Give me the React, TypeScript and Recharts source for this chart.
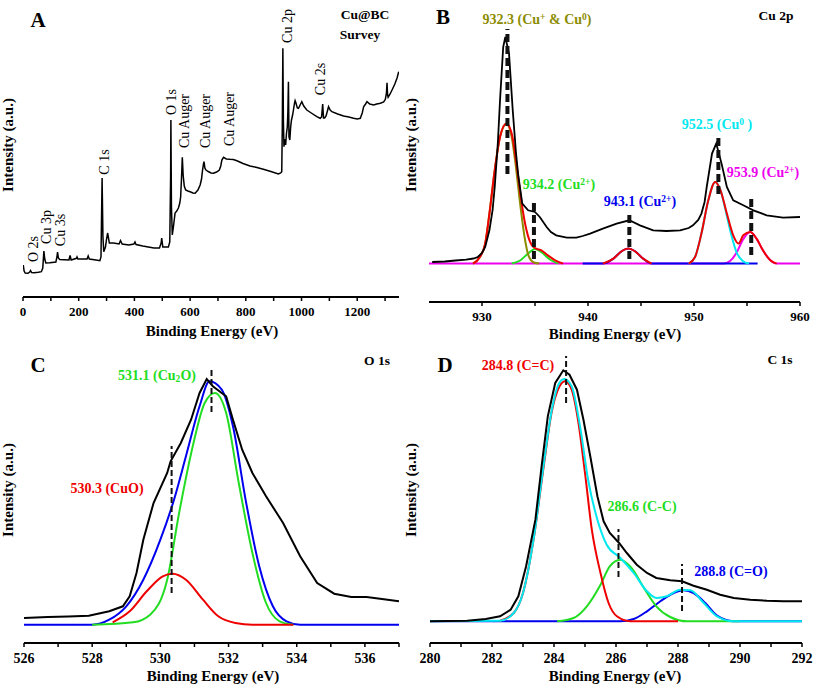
import React from "react";
import { LineChart, Line, XAxis, YAxis, ReferenceLine } from "recharts";

const FONT = '"Liberation Serif", "Times New Roman", serif';

type Pt = { x: number; y: number };
const pts = (rows: number[][]): Pt[] => rows.map(([x, y]) => ({ x, y }));

// ---- A: survey ----
const surveyTicks = [0, 100, 200, 300, 400, 500, 600, 700, 800, 900, 1000, 1100, 1200, 1300];
const surveyLabels = [0, 200, 400, 600, 800, 1000, 1200];
const survey = pts([
  [1, 32], [4, 26], [8, 24], [18, 23.7], [24, 25], [27, 26.5], [31, 24.5], [40, 24.3], [55, 24.8],
  [66, 25.3], [71, 29], [75, 46], [78, 38], [82, 34], [96, 34.3], [118, 35], [122, 40], [124, 45],
  [127, 39], [132, 37.5], [165, 37], [169, 41.5], [173, 37], [192, 38.7], [194, 40], [197, 38],
  [230, 38], [234, 41], [238, 38], [262, 37], [276, 36.3], [280, 40], [284, 119], [287, 60],
  [290, 45.3], [296, 50], [300, 58], [304, 64], [310, 54], [325, 54], [345, 53], [350, 56.5],
  [356, 53], [380, 52], [398, 53], [402, 55], [406, 52.5], [430, 51], [450, 50], [470, 49],
  [490, 49], [496, 54], [498, 59], [502, 50], [522, 50], [527, 55], [530, 120], [531, 177],
  [533, 90], [536, 62], [540, 70], [546, 84], [552, 86], [558, 89], [563, 94], [566, 100],
  [569, 118], [572, 139.7], [575, 122], [579, 111], [584, 107], [592, 106], [600, 105.3],
  [610, 104], [618, 103.7], [628, 107], [636, 112], [641, 118], [644, 125.3], [648, 133],
  [650, 135.3], [653, 129], [657, 127], [665, 125.5], [675, 124], [684, 123.7], [695, 125],
  [705, 127], [710, 131], [714, 137], [720, 139.7], [730, 138], [743, 137.7], [755, 137.5],
  [768, 136.3], [790, 133.5], [815, 131], [840, 129.5], [863, 127.7], [890, 125.5], [917, 123],
  [925, 124], [929, 125.3], [931, 170], [933, 248.7], [935, 175], [937, 150.3], [940, 158],
  [943, 152], [946, 163.7], [949, 170], [951, 185], [953, 215.3], [955, 160], [958, 157],
  [961, 170], [964, 177], [968, 182], [971, 187], [975, 194], [977, 196.3], [980, 194],
  [985, 189], [989, 188.7], [995, 192], [1001, 195.3], [1008, 191], [1019, 187], [1035, 184],
  [1055, 180.3], [1067, 178.7], [1072, 180], [1076, 193], [1079, 179], [1083, 179], [1088, 181],
  [1093, 186], [1097, 190.3], [1103, 187], [1109, 185.3], [1130, 183], [1151, 181], [1170, 180],
  [1187, 178.7], [1200, 178], [1211, 178.7], [1218, 184], [1223, 190.3], [1230, 193],
  [1235, 195.3], [1245, 193], [1259, 192], [1270, 193], [1283, 193.7], [1295, 195],
  [1301, 197.7], [1305, 204], [1307, 214.3], [1309, 202], [1311, 199.7], [1318, 203],
  [1325, 207], [1335, 213], [1343, 219], [1349, 225.3],
]);

// ---- B: Cu 2p ----
const cuTicks = [930, 935, 940, 945, 950, 955, 960];
const cuLabels = [930, 940, 950, 960];
const cuRaw = pts([
  [925.3, 40], [926.5, 40.5], [927.5, 41.5], [928.5, 42.4], [929.2, 43.5], [929.6, 45], [930.0, 49],
  [930.3, 55], [930.7, 71.7], [931.0, 92], [931.2, 115], [931.5, 160], [931.7, 201.7], [932.0, 255],
  [932.2, 265], [932.55, 248.4], [932.9, 191.7], [933.2, 150], [933.4, 128.4], [933.8, 98.4],
  [934.35, 91.7], [935.0, 90], [935.45, 85], [936.1, 75], [936.5, 70], [937.0, 66.7], [938.0, 64.4],
  [938.9, 64.4], [939.5, 66], [940.2, 68.4], [941.4, 73.4], [942.7, 78.4], [943.9, 81.7],
  [944.9, 76.7], [946.15, 71.7], [947.4, 71], [948.7, 71.7], [949.5, 74], [949.9, 76.7],
  [950.4, 82], [950.7, 88.4], [951.0, 100], [951.2, 115], [951.7, 148.4], [952.1, 158.4],
  [952.6, 138.4], [953.1, 115], [953.7, 101.7], [954.65, 96.7], [955.6, 91.7], [956.85, 86.7],
  [958.4, 84.4], [960, 85],
]);
const cuFit1 = pts([
  [929.15, 38.4], [929.8, 45], [930.3, 58.4], [930.7, 88.4], [931.2, 131.7], [931.7, 165],
  [932.3, 178.4], [932.8, 168.4], [933.25, 138.4], [933.7, 101.7], [934.2, 71.7], [934.7, 56.7],
  [935.1, 53.4], [935.6, 51.7], [936.2, 46.7], [936.9, 41.7], [937.65, 38.4],
]);
const cuFit2 = pts([
  [941.4, 38.4], [942.4, 43.4], [943.2, 51], [943.8, 53.4], [944.4, 51], [945.2, 43.4], [946.0, 38.4],
]);
const cuFit3 = pts([
  [949.5, 38.4], [950.1, 45], [950.7, 68.4], [951.35, 101.7], [952.0, 120], [952.5, 111.7],
  [953.1, 88.4], [953.7, 66.7], [954.2, 58.4], [954.65, 66.7], [955.3, 70], [955.9, 63.4],
  [956.5, 51.7], [957.2, 41.7], [957.8, 38.4],
]);
const cuOlive = pts([
  [929.15, 38.4], [929.8, 45], [930.3, 58.4], [930.7, 88.4], [931.2, 131.7], [931.7, 165],
  [932.3, 178], [932.8, 165], [933.2, 135], [933.6, 98], [934.0, 66], [934.4, 46], [934.9, 39.5],
  [935.4, 38.4],
]);
const cuGreen = pts([
  [932.8, 38.4], [933.6, 41.5], [934.3, 48], [935.0, 53], [935.7, 49], [936.4, 42.5], [937.2, 38.4],
]);
const cuBlue = pts([
  [939.5, 38.4], [941.4, 38.4], [942.4, 43.4], [943.2, 51], [943.8, 53.4], [944.4, 51],
  [945.2, 43.4], [946.0, 38.4], [956, 38.4],
]);
const cuCyan = pts([
  [949.5, 38.4], [950.1, 45], [950.7, 68.4], [951.35, 101.7], [952.0, 120], [952.5, 111.7],
  [953.1, 86], [953.5, 68], [954.0, 50], [954.6, 41], [955.2, 38.4],
]);
const cuMagenta = pts([
  [925, 38.4], [952.8, 38.4], [953.4, 41], [954.0, 49], [954.6, 62], [955.3, 70], [955.9, 63.4],
  [956.5, 51.7], [957.2, 41.7], [957.8, 38.4], [960, 38.4],
]);
const cuMarks = [
  [932.4, 128, 273], [934.9, 43, 103], [943.9, 43, 90], [952.3, 108, 167], [955.4, 47, 107],
];

// ---- C: O 1s ----
const oTicks = [526, 527, 528, 529, 530, 531, 532, 533, 534, 535, 536, 537];
const oLabels = [526, 528, 530, 532, 534, 536];
const oRaw = pts([
  [526.0, 25], [526.7, 26], [527.3, 26.5], [527.9, 27.3], [528.5, 31.7], [528.9, 36.7], [529.1, 46.7],
  [529.3, 70], [529.5, 103.3], [529.8, 140], [530.2, 170], [530.3, 181.7], [530.6, 200],
  [530.9, 223.3], [531.15, 250], [531.36, 264], [531.54, 256.7], [531.8, 250], [531.93, 246.7],
  [532.13, 223.3], [532.4, 193.3], [532.7, 170], [533.1, 146.7], [533.6, 120], [534.1, 86.7],
  [534.6, 60], [535.1, 49.3], [535.6, 46], [536.05, 46], [536.5, 44], [537, 41.7],
]);
const oEnvelope = pts([
  [526, 18.3], [528.0, 18.3], [528.5, 23.3], [529.0, 36.7], [529.5, 63.3], [530.0, 103.3],
  [530.4, 143.3], [530.75, 186.7], [531.15, 236.7], [531.44, 261.7], [531.8, 253.3],
  [532.13, 216.7], [532.5, 143.3], [532.9, 76.7], [533.3, 36.7], [533.7, 21.7], [534.1, 18.3],
  [537, 18.3],
]);
const oCu2O = pts([
  [528.0, 18.3], [529.2, 20.7], [529.7, 28.3], [530.2, 63.3], [530.55, 130], [530.95, 196.7],
  [531.3, 240], [531.6, 250], [531.93, 230], [532.3, 160], [532.7, 90], [533.1, 40], [533.5, 21.7],
  [533.9, 18.3],
]);
const oCuO = pts([
  [528.6, 20.7], [529.1, 31.7], [529.6, 51.7], [530.07, 66.7], [530.36, 69.3], [530.75, 63.3],
  [531.25, 43.3], [531.7, 26.7], [532.2, 20], [532.7, 18.3], [533.9, 18.3],
]);
const oMarks = [
  [530.33, 50, 197], [531.5, 231, 276],
];

// ---- D: C 1s ----
const cTicks = [280, 281, 282, 283, 284, 285, 286, 287, 288, 289, 290, 291, 292];
const cLabels = [280, 282, 284, 286, 288, 290, 292];
const cRaw = pts([
  [280, 21.7], [281.2, 22.3], [281.8, 24], [282.26, 26.7], [282.6, 33.3], [282.85, 46.7],
  [283.1, 76.7], [283.4, 123.3], [283.6, 176.7], [283.8, 226.7], [284.04, 260], [284.3, 272.7],
  [284.5, 268.3], [284.74, 253.3], [284.95, 223.3], [285.17, 186.7], [285.4, 146.7], [285.6, 121.7],
  [285.8, 110], [286.1, 100], [286.35, 90], [286.67, 78.3], [287.0, 70], [287.3, 65],
  [287.75, 62.7], [288.13, 61.7], [288.5, 57.3], [288.93, 53.3], [289.36, 48.3], [289.8, 45],
  [290.33, 43.3], [290.87, 42.3], [291.4, 41.7], [292, 41.7],
]);
const cEnvelope = pts([
  [280, 21.7], [282.26, 22.3], [282.7, 30], [283.0, 50], [283.34, 103.3], [283.66, 176.7],
  [283.93, 233.3], [284.14, 258.3], [284.33, 264], [284.57, 256.7], [284.84, 216.7], [285.1, 163.3],
  [285.4, 123.3], [285.7, 98.3], [286.14, 85], [286.57, 70], [287.0, 51.7], [287.3, 45],
  [287.64, 46.7], [288.07, 53.3], [288.4, 52.7], [288.83, 40], [289.26, 26.7], [289.8, 21.7],
  [292, 21.7],
]);
const cCC = pts([
  [282.26, 22.3], [282.7, 30], [283.0, 50], [283.34, 103.3], [283.66, 175], [283.93, 231.7],
  [284.18, 256.7], [284.36, 261.7], [284.57, 253.3], [284.79, 220], [285.0, 170], [285.22, 113.3],
  [285.5, 70], [285.76, 40], [286.03, 26.7], [286.46, 21.7], [288, 21.7],
]);
const cCsingle = pts([
  [284.1, 21.7], [284.63, 25], [285.06, 36.7], [285.5, 58.3], [285.8, 76.7], [286.14, 83.3],
  [286.5, 75], [286.9, 55], [287.3, 36.7], [287.75, 26], [288.3, 21.7], [290, 21.7],
]);
const cCO = pts([
  [280, 21.7], [286.14, 21.7], [286.57, 24], [287.0, 31.7], [287.43, 41.7], [287.86, 50],
  [288.18, 52.7], [288.5, 50], [288.88, 40], [289.26, 27.3], [289.8, 21.7], [292, 21.7],
]);
const cMarks = [
  [284.39, 240, 287], [286.08, 66, 114], [288.13, 32, 79],
];

type Box = { l: number; t: number; r: number; b: number };

function Panel(props: {
  box: Box;
  xDomain: [number, number];
  yDomain: [number, number];
  ticks: number[];
  labels: number[];
  fontSize: number;
  children: React.ReactNode;
}) {
  const { box, xDomain, yDomain, ticks, labels, fontSize, children } = props;
  const pad = { l: 14, t: 6, r: 14, b: 28 };
  const frame = { stroke: "#000", strokeWidth: 2 };
  return (
    <div style={{ position: "absolute", left: box.l - pad.l, top: box.t - pad.t }}>
      <LineChart
        width={box.r - box.l + pad.l + pad.r}
        height={box.b - box.t + pad.t + pad.b}
        margin={{ top: pad.t, right: pad.r, bottom: 0, left: pad.l }}
      >
        <XAxis
          type="number"
          dataKey="x"
          domain={xDomain}
          ticks={ticks}
          interval={0}
          allowDataOverflow
          height={pad.b}
          tickFormatter={(v: number) => (labels.includes(v) ? String(v) : "")}
          tick={{ fill: "#000", fontSize, fontWeight: 700, fontFamily: FONT }}
          tickSize={4}
          tickMargin={6}
          tickLine={{ stroke: "#000", strokeWidth: 1.5 }}
          axisLine={frame}
        />
        <XAxis xAxisId="top" orientation="top" type="number" domain={xDomain} allowDataOverflow
          height={0} tick={false} tickLine={false} axisLine={frame} />
        <YAxis type="number" domain={yDomain} allowDataOverflow width={0}
          tick={false} tickLine={false} axisLine={frame} />
        <YAxis yAxisId="right" orientation="right" type="number" domain={yDomain} allowDataOverflow
          width={0} tick={false} tickLine={false} axisLine={frame} />
        {children}
      </LineChart>
    </div>
  );
}

function Tag(props: {
  x: number; y: number; c?: string; s?: number; w?: number; rot?: boolean; children: React.ReactNode;
}) {
  const { x, y, c = "#000", s = 14, w = 700, rot = false, children } = props;
  return (
    <div
      style={{
        position: "absolute",
        left: x,
        top: y,
        transform: `translate(-50%, -50%)${rot ? " rotate(-90deg)" : ""}`,
        color: c,
        fontSize: s,
        fontWeight: w,
        fontFamily: FONT,
        whiteSpace: "nowrap",
        lineHeight: 1,
      }}
    >
      {children}
    </div>
  );
}

const Sup = ({ children }: { children: React.ReactNode }) => (
  <span style={{ verticalAlign: "0.45em", fontSize: "0.68em" }}>{children}</span>
);
const Sub = ({ children }: { children: React.ReactNode }) => (
  <span style={{ verticalAlign: "-0.25em", fontSize: "0.68em" }}>{children}</span>
);

const line = (data: Pt[], stroke: string, key: string, width = 2, type: "monotone" | "linear" = "monotone") => (
  <Line key={key} data={data} dataKey="y" stroke={stroke} strokeWidth={width} type={type}
    dot={false} activeDot={false} isAnimationActive={false} />
);

const marks = (rows: number[][], w: number, dash: string) =>
  rows.map(([x, y1, y2], i) => (
    <ReferenceLine key={`m${i}`} segment={[{ x, y: y1 }, { x, y: y2 }]} stroke="#111"
      strokeWidth={w} strokeDasharray={dash} />
  ));

const GREEN = "#22dd22";
const RED = "#ee0000";
const BLUE = "#0000ee";
const CYAN = "#00e8f0";
const MAGENTA = "#ee00ee";
const OLIVE = "#8c8c00";

export default function App() {
  return (
    <div style={{ position: "absolute", left: 0, top: 0, width: 813, height: 685, background: "#fff" }}>
      <Panel box={{ l: 23, t: 2, r: 399, b: 297 }} xDomain={[0, 1350]} yDomain={[0, 295]}
        ticks={surveyTicks} labels={surveyLabels} fontSize={13}>
        {line(survey, "#000", "survey", 1.5, "linear")}
      </Panel>

      <Panel box={{ l: 429, t: 3, r: 800, b: 302 }} xDomain={[925, 960]} yDomain={[0, 299]}
        ticks={cuTicks} labels={cuLabels} fontSize={13}>
        {line(cuMagenta, MAGENTA, "mag")}
        {line(cuBlue, BLUE, "blue")}
        {line(cuCyan, CYAN, "cyan")}
        {line(cuGreen, GREEN, "green")}
        {line(cuOlive, OLIVE, "olive")}
        {line(cuFit1, RED, "r1")}
        {line(cuFit2, RED, "r2")}
        {line(cuFit3, RED, "r3")}
        {line(cuRaw, "#000", "raw", 1.8, "linear")}
        {marks(cuMarks, 4, "8 4")}
      </Panel>

      <Panel box={{ l: 24, t: 347, r: 399, b: 643 }} xDomain={[526, 537]} yDomain={[0, 296]}
        ticks={oTicks} labels={oLabels} fontSize={14}>
        {line(oEnvelope, BLUE, "env")}
        {line(oCu2O, GREEN, "cu2o")}
        {line(oCuO, RED, "cuo")}
        {line(oRaw, "#000", "raw", 2, "linear")}
        {marks(oMarks, 2, "6 3")}
      </Panel>

      <Panel box={{ l: 430, t: 347, r: 802, b: 643 }} xDomain={[280, 292]} yDomain={[0, 296]}
        ticks={cTicks} labels={cLabels} fontSize={14}>
        {line(cCO, BLUE, "co")}
        {line(cCsingle, GREEN, "cc")}
        {line(cCC, RED, "cdc")}
        {line(cEnvelope, CYAN, "env")}
        {line(cRaw, "#000", "raw", 2, "linear")}
        {marks(cMarks, 2, "6 3")}
      </Panel>

      {/* axis titles */}
      <Tag x={8} y={145} s={15} rot>Intensity (a.u.)</Tag>
      <Tag x={411} y={145} s={15} rot>Intensity (a.u.)</Tag>
      <Tag x={8} y={490} s={15} rot>Intensity (a.u.)</Tag>
      <Tag x={411} y={490} s={15} rot>Intensity (a.u.)</Tag>
      <Tag x={212} y={331} s={15}>Binding Energy (eV)</Tag>
      <Tag x={615} y={334} s={15}>Binding Energy (eV)</Tag>
      <Tag x={213} y={676} s={15}>Binding Energy (eV)</Tag>
      <Tag x={615} y={676} s={15}>Binding Energy (eV)</Tag>

      {/* A */}
      <Tag x={38} y={20} s={21}>A</Tag>
      <Tag x={365} y={15} s={13.5}>Cu@BC</Tag>
      <Tag x={360} y={35} s={13.5}>Survey</Tag>
      <Tag x={34} y={249} w={400} rot>O 2s</Tag>
      <Tag x={47} y={227} w={400} rot>Cu 3p</Tag>
      <Tag x={61} y={230} w={400} rot>Cu 3s</Tag>
      <Tag x={105} y={162} w={400} rot>C 1s</Tag>
      <Tag x={172} y={102} w={400} rot>O 1s</Tag>
      <Tag x={185} y={121} w={400} rot>Cu Auger</Tag>
      <Tag x={206} y={121} w={400} rot>Cu Auger</Tag>
      <Tag x={230} y={119} w={400} rot>Cu Auger</Tag>
      <Tag x={288} y={26} w={400} rot>Cu 2p</Tag>
      <Tag x={321} y={79} w={400} rot>Cu 2s</Tag>

      {/* B */}
      <Tag x={443} y={17} s={21}>B</Tag>
      <Tag x={776} y={16} s={13.5}>Cu 2p</Tag>
      <Tag x={537} y={20} c={OLIVE}>932.3 (Cu<Sup>+</Sup> &amp; Cu<Sup>0</Sup>)</Tag>
      <Tag x={559} y={185} c={GREEN}>934.2 (Cu<Sup>2+</Sup>)</Tag>
      <Tag x={640} y={202} c={BLUE}>943.1 (Cu<Sup>2+</Sup>)</Tag>
      <Tag x={717} y={125} c={CYAN}>952.5 (Cu<Sup>0</Sup> )</Tag>
      <Tag x={763} y={173} c={MAGENTA}>953.9 (Cu<Sup>2+</Sup>)</Tag>

      {/* C */}
      <Tag x={38} y={365} s={21}>C</Tag>
      <Tag x={377} y={361} s={13.5}>O 1s</Tag>
      <Tag x={157} y={377} c={GREEN}>531.1 (Cu<Sub>2</Sub>O)</Tag>
      <Tag x={107} y={489} c={RED}>530.3 (CuO)</Tag>

      {/* D */}
      <Tag x={445} y={365} s={21}>D</Tag>
      <Tag x={780} y={360} s={13.5}>C 1s</Tag>
      <Tag x={518} y={366} c={RED}>284.8 (C=C)</Tag>
      <Tag x={642} y={507} c={GREEN}>286.6 (C-C)</Tag>
      <Tag x={731} y={572} c={BLUE}>288.8 (C=O)</Tag>
    </div>
  );
}
